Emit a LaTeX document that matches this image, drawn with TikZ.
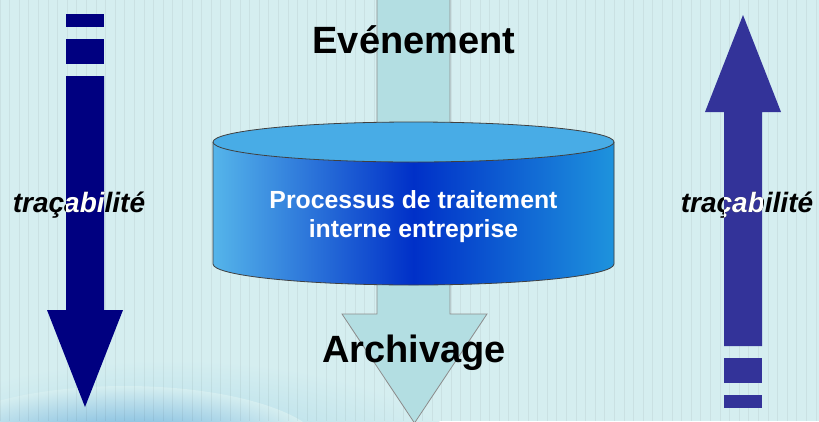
\documentclass[tikz,border=0pt]{standalone}
\usepackage{fontspec}
\setmainfont{Liberation Sans}
\definecolor{bg}{HTML}{D5EEF0}
\definecolor{navyA}{HTML}{000080}
\definecolor{indigoA}{HTML}{333399}
\definecolor{shaftc}{HTML}{B3DEE2}
\definecolor{cylL}{HTML}{55B5EA}
\definecolor{cylM}{HTML}{0030C8}
\definecolor{cylR}{HTML}{1E93DD}
\definecolor{cyltop}{HTML}{48ACE6}
\definecolor{glowA}{HTML}{5AA5D8}
\definecolor{glowB}{HTML}{A6D6E6}
\begin{document}
\begin{tikzpicture}[x=1pt,y=-1pt,
  bigtitle/.style={font=\fontsize{38}{44}\selectfont\bfseries, text=black, anchor=base, inner sep=0pt},
  tracelabel/.style={font=\fontsize{28}{32}\selectfont\bfseries\itshape, anchor=base, inner sep=0pt},
  proctext/.style={font=\fontsize{24.8}{29}\selectfont\bfseries, text=white, align=center, inner sep=0pt},
  outline/.style={draw=black!75, line width=0.8pt}]
\useasboundingbox (0,0) rectangle (819,421);
% background
\fill[bg] (0,0) rectangle (819,421);
\begin{scope}
\clip (0,0) rectangle (819,421);
\shade[inner color=glowB, outer color=bg] (170,470) ellipse [x radius=300, y radius=110];
\shade[inner color=glowA, outer color=bg] (125,452) ellipse [x radius=200, y radius=66];
\draw[black, opacity=0.05, line width=1pt, step=9.6] (0,0) grid (819,421);
\end{scope}
% central arrow
\fill[shaftc] (377,-2) -- (377,314) -- (342,314) -- (414.5,423) -- (487,314) -- (450,314) -- (450,-2) -- cycle;
\draw[black!45, line width=0.8pt] (377,-2) -- (377,314) -- (342,314) -- (414.5,423) -- (487,314) -- (450,314) -- (450,-2);
% cylinder
\shade[left color=cylL, right color=cylR, middle color=cylM]
  (213,142) -- (213,264) arc[start angle=180, end angle=0, x radius=200.5, y radius=21] -- (614,142) -- cycle;
\draw[outline] (213,142) -- (213,264) arc[start angle=180, end angle=0, x radius=200.5, y radius=21] -- (614,142);
\fill[cyltop] (413.5,142) ellipse [x radius=200.5, y radius=20];
\draw[outline] (413.5,142) ellipse [x radius=200.5, y radius=20];
\node[proctext] (proc) at (413.5,217) {Processus de traitement\\interne entreprise};
% titles
\node[bigtitle] (evt) at (414,53) {Evénement};
\node[bigtitle] (arch) at (414,362) {Archivage};
% left arrow (down)
\fill[navyA] (66,14) rectangle (104,27);
\fill[navyA] (66,39) rectangle (104,64);
\fill[navyA] (66,76) -- (66,310) -- (47,310) -- (85,407) -- (123,310) -- (104,310) -- (104,76) -- cycle;
% right arrow (up)
\fill[indigoA] (724,395) rectangle (762,408);
\fill[indigoA] (724,358) rectangle (762,383);
\fill[indigoA] (724,346) -- (724,112) -- (705,112) -- (743,15) -- (781,112) -- (762,112) -- (762,346) -- cycle;
% labels
\node[tracelabel, text=black] (tl) at (79,212) {traçabilité};
\begin{scope}
\clip (66,150) rectangle (104,240);
\node[tracelabel, text=white] (tlw) at (79,212) {traçabilité};
\end{scope}
\node[tracelabel, text=black] (tr) at (747,212) {traçabilité};
\begin{scope}
\clip (724,150) rectangle (762,240);
\node[tracelabel, text=white] (trw) at (747,212) {traçabilité};
\end{scope}
\end{tikzpicture}
\end{document}
